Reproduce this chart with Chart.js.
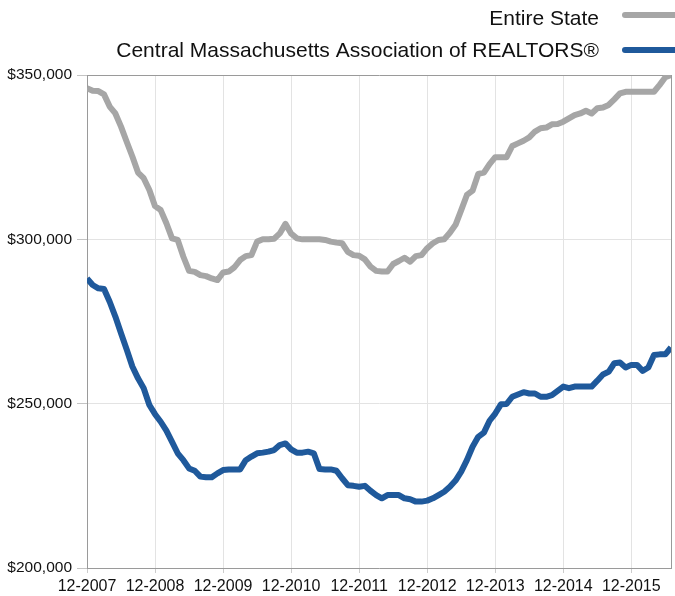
<!DOCTYPE html>
<html>
<head>
<meta charset="utf-8">
<script src="https://cdn.jsdelivr.net/npm/chart.js@4/dist/chart.umd.min.js"></script>
<style>
  html, body { margin: 0; padding: 0; background: #fff; }
  #wrap { width: 675px; height: 596px; position: relative; }
</style>
</head>
<body>
<div id="wrap"><canvas id="lineChart"></canvas></div>
<script>
// first month of the series and how many months are shown
const startMonth = 12;
const startYear = 2007;
const monthCount = 104;

// tick labels on the x axis (one per year)
const yearTicks = ['12-2007', '12-2008', '12-2009', '12-2010', '12-2011', '12-2012', '12-2013', '12-2014', '12-2015'];

const seriesNames = ['Entire State', 'Central Massachusetts Association of REALTORS®'];

// median price, Entire State
const entireState = [
    346000, 345200, 345100, 344100, 340400, 338300, 334300, 329700, 325200, 320300, 318600, 315000,
    310100, 308900, 304900, 300300, 299800, 294700, 290400, 290100, 289100, 288800, 288100, 287600,
    289900, 290200, 291500, 293700, 294900, 295200, 299300, 300000, 300000, 300200, 301800, 304700,
    301800, 300300, 300000, 300000, 300000, 300000, 299800, 299300, 299000, 298800, 296200, 295200,
    295000, 293900, 291700, 290400, 290200, 290200, 292500, 293400, 294400, 293200, 294900, 295200,
    297300, 298800, 299800, 300000, 302000, 304400, 308900, 313500, 314800, 319900, 320300, 322900,
    325000, 325000, 325000, 328400, 329200, 330000, 331000, 332800, 333800, 334000, 335000, 335100,
    335800, 336800, 337800, 338300, 339100, 338300, 339900, 340100, 340900, 342600, 344400, 344900,
    344900, 344900, 344900, 344900, 344900, 347000, 349300, 350000
];

// median price, Central Massachusetts Association of REALTORS
const centralMass = [
    288100, 286100, 285100, 284900, 281000, 276500, 271400, 266500, 261300, 257700, 254700, 249600,
    246800, 244500, 241800, 238400, 234900, 232800, 230300, 229600, 227800, 227600, 227600, 228800,
    229800, 230000, 230000, 230000, 232800, 233900, 234900, 235100, 235400, 235900, 237400, 237900,
    236100, 235100, 235100, 235400, 234900, 230100, 230000, 230000, 229600, 227300, 225200, 225000,
    224700, 225000, 223500, 222200, 221200, 222200, 222200, 222200, 221200, 220900, 220200, 220200,
    220500, 221200, 222200, 223200, 224700, 226600, 229300, 232800, 236900, 239900, 241200, 244800,
    247000, 249800, 249900, 252100, 252800, 253500, 253100, 253100, 252100, 252100, 252600, 253900,
    255200, 254700, 255200, 255200, 255200, 255200, 257000, 258900, 259700, 262300, 262500, 261000,
    261800, 261800, 260000, 261000, 264800, 265000, 265000, 267100
];

const yMin = 200000;
const yMax = 350000;
const yStep = 50000;

document.addEventListener('DOMContentLoaded', function () {
    const FONT = '"Liberation Sans", Arial, Helvetica, sans-serif';
    const AXIS = '#9a9a9a';
    const GRID = '#e3e3e3';

    // month labels, e.g. 12-2007, 1-2008 ...
    const months = [];
    for (let i = 0; i < monthCount; i++) {
        const m = (startMonth - 1 + i) % 12 + 1;
        const y = startYear + Math.floor((startMonth - 1 + i) / 12);
        months.push(m + '-' + y);
    }

    // legend on the right, text left of the line sample
    const sideLegend = {
        id: 'sideLegend',
        afterDraw(chart) {
            const c = chart.ctx;
            const rows = [{ text: 25, line: 15 }, { text: 57, line: 50 }];
            c.save();
            c.font = '21px ' + FONT;
            c.textAlign = 'right';
            c.textBaseline = 'alphabetic';
            chart.data.datasets.forEach(function (ds, i) {
                c.fillStyle = '#111';
                c.fillText(ds.label, 599, rows[i].text);
                c.strokeStyle = ds.borderColor;
                c.lineWidth = 6;
                c.lineCap = 'round';
                c.beginPath();
                c.moveTo(625, rows[i].line);
                c.lineTo(700, rows[i].line);
                c.stroke();
            });
            c.restore();
        }
    };

    const ctx = document.getElementById('lineChart').getContext('2d');
    new Chart(ctx, {
        type: 'line',
        data: {
            labels: months,
            datasets: [{
                label: seriesNames[0],
                data: entireState,
                borderColor: '#a6a6a6',
                backgroundColor: '#a6a6a6',
                borderWidth: 6,
                pointRadius: 0,
                tension: 0,
                borderJoinStyle: 'round'
            }, {
                label: seriesNames[1],
                data: centralMass,
                borderColor: '#1f599b',
                backgroundColor: '#1f599b',
                borderWidth: 6,
                pointRadius: 0,
                tension: 0,
                borderJoinStyle: 'round'
            }]
        },
        options: {
            responsive: true,
            maintainAspectRatio: false,
            animation: false,
            layout: { padding: { top: 75, right: 2, left: 0, bottom: 0 } },
            scales: {
                x: {
                    offset: false,
                    min: months[0],
                    max: months[monthCount - 1],
                    afterFit: function (scale) { scale.height = 28; },
                    border: { display: true, color: AXIS, width: 1 },
                    grid: {
                        color: function (c) {
                            if (c.index === monthCount - 1) return AXIS;
                            return c.index % 12 === 0 ? GRID : 'rgba(0,0,0,0)';
                        },
                        tickColor: function (c) {
                            return c.index % 12 === 0 && c.index < monthCount - 1 ? '#cccccc' : 'rgba(0,0,0,0)';
                        },
                        tickLength: 5
                    },
                    ticks: {
                        autoSkip: false,
                        maxRotation: 0,
                        padding: 4,
                        color: '#111',
                        font: { family: FONT, size: 16 },
                        callback: function (val, index) {
                            return index % 12 === 0 ? yearTicks[index / 12] : '';
                        }
                    }
                },
                y: {
                    min: yMin,
                    max: yMax,
                    afterFit: function (scale) { scale.width = 87; },
                    border: { display: true, color: AXIS, width: 1 },
                    grid: {
                        color: function (c) {
                            return c.tick && c.tick.value === yMax ? AXIS : GRID;
                        },
                        tickColor: '#c4c4c4',
                        tickLength: 10
                    },
                    ticks: {
                        stepSize: yStep,
                        padding: 5,
                        color: '#111',
                        font: { family: FONT, size: 15.5 },
                        callback: function (v) { return '$' + v.toLocaleString('en-US'); }
                    }
                }
            },
            plugins: {
                legend: { display: false },
                tooltip: { enabled: false }
            }
        },
        plugins: [sideLegend]
    });
});
</script>
</body>
</html>
